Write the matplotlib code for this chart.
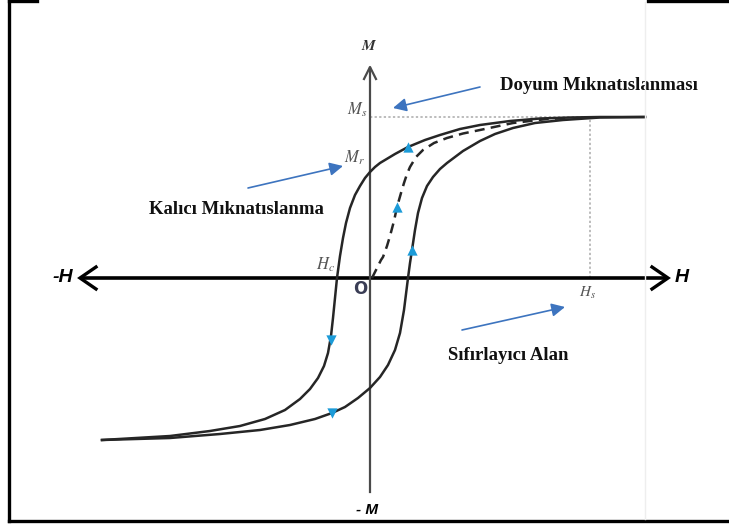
import matplotlib

matplotlib.use("Agg")
import matplotlib.pyplot as plt
from matplotlib.lines import Line2D

plt.rcParams["mathtext.fontset"] = "stix"

# Hysteresis loop, (H, M) pairs in arbitrary field / magnetisation units.
upper_H = [275, 230, 200, 170, 140, 110, 90, 70, 55, 38, 25, 10, 5, 0, -5, -10, -15, -20, -24, -27, -30, -33,
           -35, -37, -39, -42, -46, -52, -60, -70, -85, -105, -130, -160, -200, -268]
upper_M = [161, 161, 160.5, 159.5, 157, 153, 149, 143, 138, 131, 124, 115, 111, 106, 100, 92, 83, 70, 55, 40, 22, 0,
           -20, -40, -58, -75, -88, -100, -111, -121, -132, -141, -148, -153, -158, -162]

lower_H = [-268, -200, -150, -110, -80, -55, -38, -25, -12, 0, 10, 18, 25, 30, 34, 36, 38, 40, 42, 45, 48, 52,
           57, 63, 70, 77, 93, 110, 125, 143, 165, 193, 230, 275]
lower_M = [-162, -160, -156, -152, -147, -141, -135, -129, -120, -110, -99, -87, -72, -55, -32, -16, 0, 15, 28, 48,
           65, 80, 92, 101, 109, 115, 127, 137, 144, 150, 155, 158, 160.5, 161]

virgin_H = [2, 5, 8, 11, 13, 17, 20, 24, 27, 31, 34, 37, 40, 46, 53, 64, 77, 93, 110, 143, 177, 200]
virgin_M = [0, 6, 12, 18, 21, 32, 42, 57, 71, 85, 95, 104, 111, 121, 128, 135, 140, 144.5, 148, 155, 159, 160]

# direction markers along the loop
arrow_up_H = [38, 27, 42]
arrow_up_M = [131, 71, 28]
arrow_dn_H = [-39, -38]
arrow_dn_M = [-62, -135]

M_s = 161
H_s = 220
H_c = -33

ink = "#262626"
mark_blue = "#1c9bd8"
note_blue = "#3d74bf"
lab_gray = "#555555"

fig = plt.figure(figsize=(7.29, 5.24), dpi=100)
ax = fig.add_axes([0, 0, 1, 1])
ax.set_xlim(-370, 359)
ax.set_ylim(-246, 278)
ax.axis("off")

# axes of the M-H plane
ax.plot([-288, 296], [0, 0], color="black", lw=2.6, solid_capstyle="butt", zorder=2)
for tip, sgn in [(-290, 1), (298, -1)]:
    ax.plot([tip + sgn * 16, tip, tip + sgn * 16], [11, 0, -11], color="black", lw=2.4,
            solid_joinstyle="miter", zorder=2)
ax.plot([0, 0], [-214, 210], color="#4a4a4a", lw=1.6, zorder=2)
ax.plot([-6, 0, 6], [199, 211, 199], color="#4a4a4a", lw=1.6, zorder=2)

# saturation guides
ax.plot([0, H_s], [M_s, M_s], color="#aaaaaa", lw=1.1, ls=(0, (1.5, 1.5)), zorder=1)
ax.plot([H_s, H_s], [0, M_s], color="#aaaaaa", lw=1.1, ls=(0, (1.5, 1.5)), zorder=1)

# loop and initial magnetisation curve
ax.plot(upper_H, upper_M, color=ink, lw=1.8, zorder=3)
ax.plot(lower_H, lower_M, color=ink, lw=1.8, zorder=3)
ax.plot(virgin_H, virgin_M, color=ink, lw=1.8, ls=(0, (4, 2.5)), zorder=3)

ax.scatter(arrow_up_H, arrow_up_M, marker="^", s=55, color=mark_blue, zorder=4, linewidths=0)
ax.scatter(arrow_dn_H, arrow_dn_M, marker="v", s=55, color=mark_blue, zorder=4, linewidths=0)

# axis labels
bold_it = dict(family="Liberation Sans", weight="bold", style="italic")
ax.text(-297, 0, "-H", ha="right", va="center", fontsize=14, **bold_it)
ax.text(305, 0, "H", ha="left", va="center", fontsize=14, **bold_it)
ax.text(-3, -232, "- M", ha="center", va="center", fontsize=11, **bold_it)
ax.text(-1, 233, r"$\boldsymbol{M}$", ha="center", va="center", fontsize=11, color="#333333")

ax.text(-3, 168, r"$M_s$", ha="right", va="center", fontsize=12, color=lab_gray)
ax.text(-5, 120, r"$M_r$", ha="right", va="center", fontsize=12, color=lab_gray)
ax.text(H_c - 2, 13, r"$H_c$", ha="right", va="center", fontsize=12, color=lab_gray)
ax.text(H_s - 2, -15, r"$H_s$", ha="center", va="center", fontsize=11, color=lab_gray)
ax.text(-10, -11, "O", ha="center", va="center", fontsize=12, weight="bold", color="#3a3d55")

# callouts
note = dict(family="Liberation Serif", weight="bold", fontsize=13.5, color="#111111")
arrow = dict(arrowstyle="-|>", mutation_scale=20, lw=1.2, color=note_blue, shrinkA=0, shrinkB=0)
ax.text(229, 193, "Doyum Mıknatıslanması", ha="center", va="center", **note)
ax.annotate("", xy=(23, 170), xytext=(110, 191), arrowprops=arrow)
ax.text(-134, 68, "Kalıcı Mıknatıslanma", ha="center", va="center", **note)
ax.annotate("", xy=(-27, 112), xytext=(-122, 90), arrowprops=arrow)
ax.text(138, -77, "Sıfırlayıcı Alan", ha="center", va="center", **note)
ax.annotate("", xy=(195, -29), xytext=(92, -52), arrowprops=arrow)

# page frame
W, Hh = 729.0, 524.0
for xs, ys in [([9, 9], [0, 521]), ([9, 729], [521, 521]), ([9, 37], [1, 1]), ([648, 729], [1, 1])]:
    fig.add_artist(Line2D([x / W for x in xs], [1 - y / Hh for y in ys], color="black", lw=2.4,
                          transform=fig.transFigure))
fig.add_artist(Line2D([645 / W, 645 / W], [1 - 2 / Hh, 1 - 519 / Hh], color="#eeeeee", lw=1,
                      transform=fig.transFigure))

fig.savefig("out.png", dpi=100)
